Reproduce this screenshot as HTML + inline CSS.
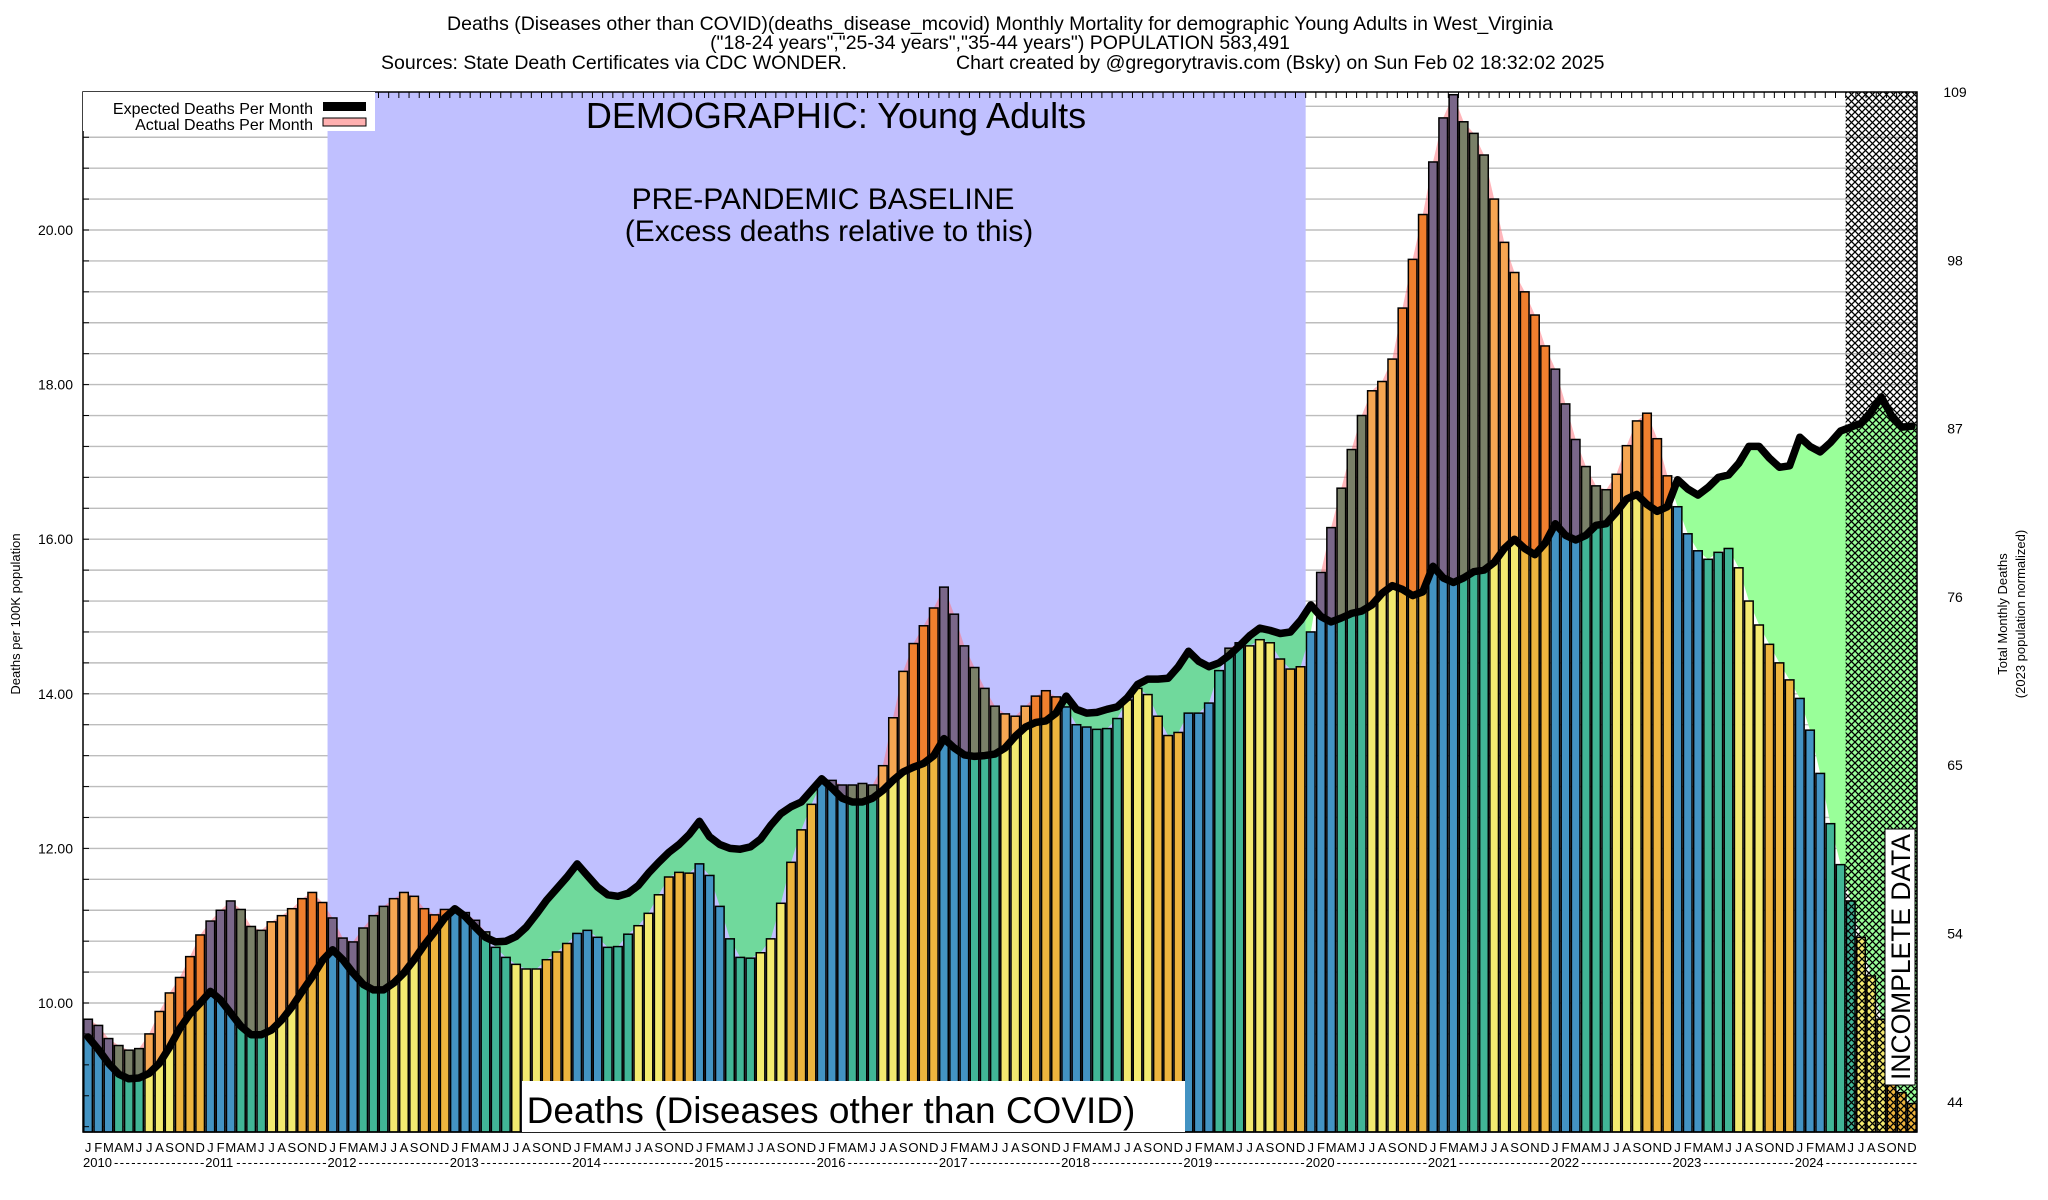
<!DOCTYPE html>
<html><head><meta charset="utf-8"><title>Deaths (Diseases other than COVID) West Virginia Young Adults</title>
<style>
html,body{margin:0;padding:0;background:#fff;}
svg{display:block;font-family:"Liberation Sans",Arial,sans-serif;}
</style></head>
<body>
<svg id="chart" width="2048" height="1200" viewBox="0 0 2048 1200" xmlns="http://www.w3.org/2000/svg">
<defs>
<pattern id="hatch" patternUnits="userSpaceOnUse" width="7" height="7">
<path d="M0,0 L7,7 M7,0 L0,7" stroke="#000" stroke-width="1.3" fill="none"/>
</pattern>
</defs>
<rect x="0" y="0" width="2048" height="1200" fill="#fff"/>
<g font-size="19.5" fill="#000">
<text x="1000" y="30" text-anchor="middle">Deaths (Diseases other than COVID)(deaths_disease_mcovid) Monthly Mortality for demographic Young Adults in West_Virginia</text>
<text x="1000" y="49" text-anchor="middle">("18-24 years","25-34 years","35-44 years") POPULATION 583,491</text>
<text x="381" y="69">Sources: State Death Certificates via CDC WONDER.</text>
<text x="956" y="69">Chart created by @gregorytravis.com (Bsky) on Sun Feb 02 18:32:02 2025</text>
</g>
<g id="grid"></g>
<rect id="baseline-bg" fill="#c0c0ff"/>
<g id="fills"></g>
<g id="bars"></g>
<rect id="hatchrect" fill="url(#hatch)"/>
<g id="lines"></g>
<g id="axes"></g>
<g>
<rect x="83" y="92" width="292" height="39" fill="#fff"/>
<text x="313" y="114" font-size="16" text-anchor="end">Expected Deaths Per Month</text>
<rect x="323" y="102" width="43" height="9" fill="#000"/>
<text x="313" y="130" font-size="16" text-anchor="end">Actual Deaths Per Month</text>
<rect x="323" y="118" width="43" height="8" fill="#ffb0b0" stroke="#000" stroke-width="1"/>
</g>
<text x="836" y="128" font-size="36" text-anchor="middle">DEMOGRAPHIC: Young Adults</text>
<text x="823" y="209" font-size="30" text-anchor="middle">PRE-PANDEMIC BASELINE</text>
<text x="829" y="241" font-size="30" text-anchor="middle">(Excess deaths relative to this)</text>
<rect x="522" y="1081" width="663" height="51" fill="#fff"/>
<text x="831" y="1123" font-size="37" text-anchor="middle">Deaths (Diseases other than COVID)</text>
<rect x="1885" y="829" width="30" height="256" fill="#fff" stroke="#000" stroke-width="1"/>
<text x="0" y="0" font-size="27" text-anchor="middle" transform="translate(1910,957) rotate(-90)" textLength="246" lengthAdjust="spacingAndGlyphs">INCOMPLETE DATA</text>
<text x="0" y="0" font-size="13" text-anchor="middle" transform="translate(20,614) rotate(-90)">Deaths per 100K population</text>
<text x="0" y="0" font-size="13" text-anchor="middle" transform="translate(2007,614) rotate(-90)">Total Monthly Deaths</text>
<text x="0" y="0" font-size="13" text-anchor="middle" transform="translate(2025,614) rotate(-90)">(2023 population normalized)</text>
</svg>
<script>
const years = [2010,2011,2012,2013,2014,2015,2016,2017,2018,2019,2020,2021,2022,2023,2024];
const monthLetters = ["J","F","M","A","M","J","J","A","S","O","N","D"];
const actualRates = [
9.79,9.71,9.54,9.45,9.39,9.41,9.6,9.89,10.13,10.33,10.6,10.88,
11.06,11.2,11.32,11.21,10.99,10.94,11.05,11.13,11.22,11.35,11.43,11.3,
11.1,10.84,10.79,10.97,11.13,11.25,11.35,11.43,11.38,11.22,11.14,11.21,
11.18,11.17,11.07,10.92,10.72,10.59,10.5,10.44,10.44,10.56,10.66,10.77,
10.9,10.94,10.85,10.72,10.73,10.89,11.0,11.16,11.4,11.63,11.69,11.68,
11.8,11.65,11.25,10.83,10.59,10.58,10.65,10.83,11.29,11.82,12.24,12.57,
12.85,12.88,12.82,12.82,12.84,12.82,13.07,13.69,14.29,14.65,14.88,15.11,
15.38,15.03,14.62,14.34,14.07,13.84,13.74,13.71,13.84,13.97,14.04,13.96,
13.83,13.6,13.57,13.54,13.55,13.68,13.92,14.07,13.99,13.71,13.46,13.5,
13.75,13.75,13.88,14.3,14.59,14.66,14.62,14.7,14.66,14.45,14.32,14.35,
14.8,15.57,16.15,16.66,17.16,17.6,17.92,18.04,18.33,18.99,19.62,20.2,
20.88,21.45,21.75,21.4,21.25,20.97,20.4,19.84,19.45,19.2,18.9,18.5,
18.2,17.75,17.29,16.94,16.69,16.64,16.84,17.21,17.53,17.63,17.3,16.82,
16.42,16.07,15.85,15.74,15.83,15.88,15.63,15.2,14.89,14.64,14.4,14.18,
13.94,13.53,12.97,12.32,11.79,11.32,10.85,10.35,9.79,8.97,8.84,8.7];
const expectedRates = [
9.56,9.4,9.22,9.08,9.02,9.03,9.09,9.22,9.43,9.67,9.86,10.0,
10.15,10.04,9.87,9.7,9.59,9.59,9.65,9.78,9.95,10.15,10.34,10.55,
10.69,10.56,10.39,10.24,10.17,10.17,10.26,10.39,10.56,10.75,10.92,11.1,
11.22,11.12,10.98,10.85,10.79,10.8,10.86,10.98,11.15,11.33,11.48,11.63,
11.8,11.65,11.5,11.4,11.38,11.42,11.52,11.68,11.82,11.95,12.05,12.18,
12.35,12.15,12.05,12.0,11.99,12.02,12.12,12.3,12.45,12.54,12.6,12.75,
12.9,12.78,12.65,12.6,12.6,12.65,12.75,12.88,12.99,13.05,13.1,13.2,
13.42,13.3,13.21,13.19,13.2,13.22,13.3,13.45,13.57,13.63,13.65,13.75,
13.97,13.8,13.75,13.76,13.8,13.83,13.95,14.12,14.19,14.19,14.2,14.35,
14.55,14.42,14.35,14.4,14.5,14.62,14.75,14.85,14.82,14.78,14.8,14.95,
15.15,15.0,14.93,14.98,15.04,15.07,15.15,15.3,15.4,15.35,15.27,15.32,
15.65,15.5,15.44,15.5,15.58,15.6,15.7,15.88,16.0,15.88,15.8,15.95,
16.2,16.05,15.99,16.05,16.18,16.2,16.35,16.52,16.58,16.45,16.36,16.42,
16.77,16.65,16.57,16.67,16.8,16.83,16.98,17.2,17.2,17.05,16.93,16.95,
17.32,17.2,17.13,17.25,17.4,17.45,17.5,17.65,17.84,17.6,17.45,17.46];
const leftTicks = [10,12,14,16,18,20];
const leftTickLabels = ["10.00","12.00","14.00","16.00","18.00","20.00"];
const rightTickLabels = ["109","98","87","76","65","54","44"];
const baselineStartMonth = 24;
const baselineEndMonth = 120;
const incompleteStartMonth = 173;

const NS = "http://www.w3.org/2000/svg";
const PL = 83, PR = 1917, PT = 92, PB = 1132;
const N = actualRates.length;
const W = (PR - PL) / N;
function xs(i){ return PL + i * W; }
function xc(i){ return PL + (i + 0.5) * W; }
function ys(v){ return 1003 - (v - 10) * 77.3; }
function mk(tag, attrs, parent){
  const e = document.createElementNS(NS, tag);
  for (const k in attrs) e.setAttribute(k, attrs[k]);
  parent.appendChild(e);
  return e;
}
const svg = document.getElementById('chart');
const defs = svg.querySelector('defs');

const grid = document.getElementById('grid');
for (let k = 0; k <= 40; k++) {
  const v = 8.4 + 0.4 * k;
  const y = ys(v);
  if (y < PT + 1 || y > PB - 1) continue;
  const l = mk('line', {x1: PL, x2: PR, y1: y, y2: y, stroke: '#bdbdbd', 'stroke-width': 1.4}, grid);
  
  
}
const bb = document.getElementById('baseline-bg');
bb.setAttribute('x', xs(baselineStartMonth));
bb.setAttribute('y', PT);
bb.setAttribute('width', xs(baselineEndMonth) - xs(baselineStartMonth));
bb.setAttribute('height', PB - PT);

function linePts(arr){
  const p = [[PL, ys(arr[0])]];
  for (let i = 0; i < N; i++) p.push([xc(i), ys(arr[i])]);
  p.push([PR, ys(arr[N-1])]);
  return p;
}
const aPts = linePts(actualRates), ePts = linePts(expectedRates);
function ptsStr(p){ return p.map(q => q[0].toFixed(1) + ',' + q[1].toFixed(1)).join(' '); }
function addClip(id, pts){
  const c = mk('clipPath', {id: id}, defs);
  mk('polygon', {points: ptsStr(pts)}, c);
}
addClip('aboveExp', ePts.concat([[PR, 0], [PL, 0]]));
addClip('aboveAct', aPts.concat([[PR, 0], [PL, 0]]));
const cb = mk('clipPath', {id: 'blueClip'}, defs);
mk('rect', {x: xs(baselineStartMonth), y: 0, width: xs(baselineEndMonth) - xs(baselineStartMonth), height: 1200}, cb);
const cw = mk('clipPath', {id: 'whiteClip'}, defs);
mk('rect', {x: 0, y: 0, width: xs(baselineStartMonth), height: 1200}, cw);
mk('rect', {x: xs(baselineEndMonth), y: 0, width: 2048, height: 1200}, cw);

const fills = document.getElementById('fills');
const underAct = aPts.concat([[PR, PB], [PL, PB]]);
const underExp = ePts.concat([[PR, PB], [PL, PB]]);
const ex = mk('polygon', {points: ptsStr(underAct), fill: 'rgba(255,110,120,0.5)', 'clip-path': 'url(#aboveExp)'}, fills);


const g1 = mk('g', {'clip-path': 'url(#blueClip)'}, fills);
const d1 = mk('polygon', {points: ptsStr(underExp), fill: '#70d99c', 'clip-path': 'url(#aboveAct)'}, g1);


const g2 = mk('g', {'clip-path': 'url(#whiteClip)'}, fills);
const d2 = mk('polygon', {points: ptsStr(underExp), fill: '#99ff99', 'clip-path': 'url(#aboveAct)'}, g2);



const seasonColor = ['#4393c3','#41b596','#f3ea70','#edb43e'];
const excessColor = ['#7a6789','#7a8068','#f6a652','#f07f2e'];
const bars = document.getElementById('bars');
for (let i = 0; i < N; i++) {
  const s = Math.floor((i % 12) / 3);
  const x = xs(i) + 0.8, w = W - 1.6;
  const yA = ys(actualRates[i]), yE = ys(expectedRates[i]);
  const g = mk('g', {}, bars);
  
  
  if (yA < yE) {
    mk('rect', {x: x, y: yE, width: w, height: PB - yE, fill: seasonColor[s]}, g);
    mk('rect', {x: x, y: yA, width: w, height: yE - yA, fill: excessColor[s]}, g);
  } else {
    mk('rect', {x: x, y: yA, width: w, height: PB - yA, fill: seasonColor[s]}, g);
  }
  mk('rect', {x: x, y: yA, width: w, height: PB - yA, fill: 'none', stroke: '#000', 'stroke-width': 1.5}, g);
}
const hr = document.getElementById('hatchrect');
hr.setAttribute('x', xs(incompleteStartMonth));
hr.setAttribute('y', PT);
hr.setAttribute('width', PR - xs(incompleteStartMonth));
hr.setAttribute('height', PB - PT);

const lines = document.getElementById('lines');
const ep = [];
for (let i = 0; i < N; i++) ep.push([xc(i), ys(expectedRates[i])]);
const pl = mk('polyline', {points: ptsStr(ep), fill: 'none', stroke: '#000', 'stroke-width': 7.5, 'stroke-linejoin': 'round', 'stroke-linecap': 'round'}, lines);



const axes = document.getElementById('axes');
const frame = mk('rect', {x: PL, y: PT, width: PR - PL, height: PB - PT, fill: 'none', stroke: '#000', 'stroke-width': 1.5}, axes);


for (let i = 1; i < N; i++) {
  const t = mk('line', {x1: xs(i), x2: xs(i), y1: PT, y2: PT + 6, stroke: '#000', 'stroke-width': 1}, axes);
  
  
}
for (let k = 0; k <= 40; k++) {
  const y = ys(8.4 + 0.4 * k);
  if (y < PT + 1 || y > PB - 1) continue;
  const t = mk('line', {x1: PL, x2: PL + 6, y1: y, y2: y, stroke: '#000', 'stroke-width': 1}, axes);
  
  
}
for (let k = 0; k < leftTicks.length; k++) {
  const t = mk('text', {x: 73, y: ys(leftTicks[k]) + 5, 'font-size': 14, 'text-anchor': 'end'}, axes);
  t.textContent = leftTickLabels[k];
  
  
}
for (let k = 0; k < rightTickLabels.length; k++) {
  const y = PT + k * 168.3;
  const t = mk('text', {x: 1955, y: y + 5, 'font-size': 14, 'text-anchor': 'middle'}, axes);
  t.textContent = rightTickLabels[k];
  
  
}
for (let i = 0; i < N; i++) {
  const t = mk('text', {x: xc(i), y: 1152, 'font-size': 13, 'text-anchor': 'middle'}, axes);
  t.textContent = monthLetters[i % 12];
  
  
}
for (let y = 0; y < years.length; y++) {
  const x0 = xs(y * 12);
  const t = mk('text', {x: x0, y: 1167, 'font-size': 13}, axes);
  t.textContent = years[y];
  
  
  const dx = x0 + 31, dx2 = (y < years.length - 1) ? xs(y * 12 + 12) - 1 : PR;
  const d = mk('text', {x: dx, y: 1167, 'font-size': 13, textLength: (dx2 - dx).toFixed(1), lengthAdjust: 'spacing'}, axes);
  d.textContent = '----------------';
  
  
}
</script>
</body></html>
